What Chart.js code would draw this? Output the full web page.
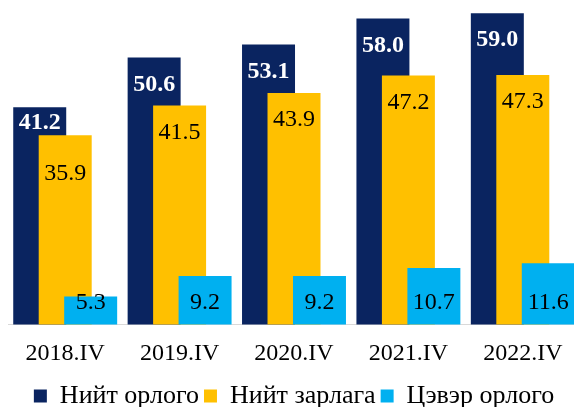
<!DOCTYPE html>
<html>
<head>
<meta charset="utf-8">
<script src="https://cdn.jsdelivr.net/npm/chart.js@4/dist/chart.umd.min.js"></script>
<style>
  html, body { margin: 0; padding: 0; overflow: hidden; background: #fff; }
  #wrap { width: 582px; height: 419px; }
</style>
</head>
<body>
<div id="wrap"><canvas id="chart" width="582" height="419"></canvas></div>
<script>
// Data
const categories = ['2018.IV', '2019.IV', '2020.IV', '2021.IV', '2022.IV'];
const seriesNames = ['Нийт орлого', 'Нийт зарлага', 'Цэвэр орлого'];
const totalIncome = [41.2, 50.6, 53.1, 58.0, 59.0];
const totalExpense = [35.9, 41.5, 43.9, 47.2, 47.3];
const netIncome = [5.3, 9.2, 9.2, 10.7, 11.6];

const serif = '"Liberation Serif", "Times New Roman", serif';
const colors = ['#0A2460', '#FFC000', '#00B0F0'];

// Bars overlap like in Excel: draw in series order so the later one sits on top,
// then write the value labels
const overlapBars = {
  id: 'overlapBars',
  beforeDatasetsDraw(chart) {
    const metas = chart.getSortedVisibleDatasetMetas();
    metas.forEach(m => m.controller.draw());

    const ctx = chart.ctx;
    ctx.save();
    ctx.textAlign = 'center';
    ctx.textBaseline = 'middle';
    const navy = metas[0].data, yellow = metas[1].data, cyan = metas[2].data;
    navy.forEach((bar, j) => {
      // lift the label when the next bar starts too close below it
      const gap = yellow[j].y - bar.y;
      const off = Math.min(27, gap - 12.5);
      ctx.font = 'bold 24px ' + serif;
      ctx.fillStyle = '#fff';
      ctx.fillText(totalIncome[j].toFixed(1), bar.x, bar.y + off);

      ctx.font = '24px ' + serif;
      ctx.fillStyle = '#000';
      ctx.fillText(totalExpense[j].toFixed(1), yellow[j].x, yellow[j].y + 27 + (27 - off));

      ctx.fillText(netIncome[j].toFixed(1), cyan[j].x, cyan[j].base - 22);
    });
    ctx.restore();
    return false;
  }
};

const ctx = document.getElementById('chart').getContext('2d');
new Chart(ctx, {
  type: 'bar',
  data: {
    labels: categories,
    datasets: [
      { label: seriesNames[0], data: totalIncome, backgroundColor: colors[0] },
      { label: seriesNames[1], data: totalExpense, backgroundColor: colors[1] },
      { label: seriesNames[2], data: netIncome, backgroundColor: colors[2] }
    ]
  },
  options: {
    responsive: false,
    animation: false,
    devicePixelRatio: 1,
    categoryPercentage: 0.668,
    barPercentage: 2.08,
    layout: { padding: { left: 8, right: 2, top: 8, bottom: 0 } },
    plugins: {
      legend: {
        position: 'bottom',
        labels: {
          font: { family: serif, size: 26 },
          color: '#000',
          boxWidth: 13,
          boxHeight: 13,
          padding: 5
        }
      },
      tooltip: { enabled: false }
    },
    scales: {
      x: {
        grid: { display: false, drawTicks: false },
        border: { display: true, color: '#D9D9D9', width: 1 },
        ticks: {
          font: { family: serif, size: 24 },
          color: '#000',
          padding: 15
        },
        afterFit(axis) { axis.height = 53.5; }
      },
      y: {
        display: false,
        min: 0,
        max: 60
      }
    }
  },
  plugins: [overlapBars]
});
</script>
</body>
</html>
